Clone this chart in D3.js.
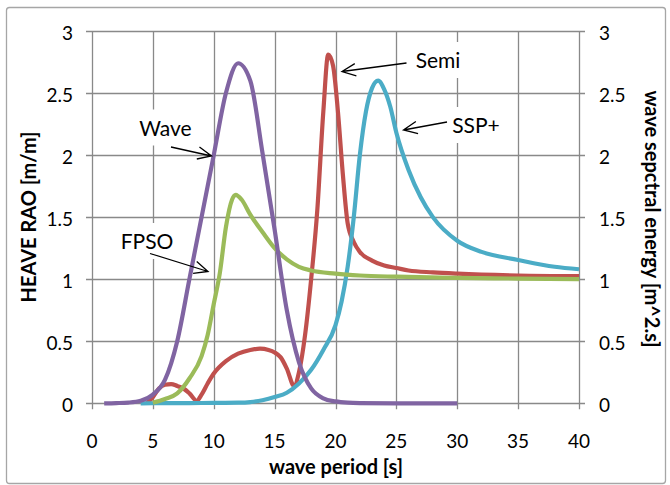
<!DOCTYPE html>
<html>
<head>
<meta charset="utf-8">
<script src="https://cdn.jsdelivr.net/npm/d3@7"></script>
<style>
  body { margin: 0; background: #fff; }
  text { font-family: Lato, "Open Sans", sans-serif; fill: #000; }
</style>
</head>
<body>
<div id="chart"></div>
<script>
// Data
const waveX = [1, 2, 3, 4, 5, 6, 7, 8, 9, 10, 11, 12, 13, 14, 15, 16, 17, 18, 19, 20, 21, 22, 25, 30]
const waveY = [0, 0.002, 0.006, 0.02, 0.07, 0.19, 0.5, 1.0, 1.5, 2.0, 2.5, 2.74, 2.6, 2.02, 1.4, 0.75, 0.33, 0.12, 0.04, 0.015, 0.005, 0.002, 0, 0]

const fpsoX = [5, 6, 7, 8, 9, 9.5, 10, 10.5, 11, 11.5, 11.8, 12.3, 13, 14, 15, 16, 17, 18, 20, 22, 25, 30, 35, 40]
const fpsoY = [0.005, 0.035, 0.08, 0.2, 0.38, 0.55, 0.8, 1.05, 1.42, 1.64, 1.68, 1.64, 1.52, 1.38, 1.25, 1.16, 1.1, 1.07, 1.045, 1.03, 1.02, 1.01, 1.005, 1.0]

const semiX = [4.5, 5, 5.5, 6, 6.5, 7, 7.5, 8, 8.6, 9, 9.5, 10, 11, 12, 13, 13.8, 14.5, 15, 15.5, 16, 16.6, 17, 17.5, 18, 18.5, 19, 19.4, 19.8, 20.2, 20.6, 21, 21.5, 22, 23, 24, 25, 26, 28, 30, 35, 40]
const semiY = [0, 0.05, 0.12, 0.15, 0.155, 0.14, 0.12, 0.08, 0.02, 0.07, 0.16, 0.24, 0.34, 0.4, 0.43, 0.44, 0.43, 0.41, 0.37, 0.28, 0.14, 0.25, 0.55, 1.0, 1.55, 2.35, 2.81, 2.72, 2.35, 1.85, 1.45, 1.3, 1.22, 1.15, 1.11, 1.09, 1.07, 1.055, 1.045, 1.03, 1.025]

const sspX = [4, 6, 8, 10, 12, 13, 14, 15, 16, 17, 18, 19, 20, 20.5, 21, 21.5, 22, 22.5, 23, 23.5, 24, 24.5, 25, 26, 27, 28, 30, 32, 35, 38, 40]
const sspY = [0, 0.001, 0.002, 0.003, 0.005, 0.01, 0.025, 0.05, 0.085, 0.16, 0.27, 0.43, 0.63, 0.82, 1.1, 1.5, 2.0, 2.35, 2.54, 2.6, 2.53, 2.39, 2.18, 1.88, 1.66, 1.5, 1.31, 1.22, 1.155, 1.1, 1.08]

const xTicks = [0, 5, 10, 15, 20, 25, 30, 35, 40]
const yTicks = [0, 0.5, 1, 1.5, 2, 2.5, 3]

const seriesNames = ["Wave", "FPSO", "Semi", "SSP+"]
const seriesColors = ["#8064a2", "#9bbb59", "#c0504d", "#4bacc6"]

// Size of the page
var width = 670
var height = 485

const svg = d3.select("#chart")
  .append("svg")
    .attr("width", width)
    .attr("height", height)

// outer frame
svg.append("rect")
  .attr("x", 6.5).attr("y", 7.5)
  .attr("width", 659).attr("height", 476)
  .attr("rx", 3)
  .attr("fill", "#fff")
  .attr("stroke", "#a6a6a6")
  .attr("stroke-width", 1.3)

const x = d3.scaleLinear().domain([0, 40]).range([92, 579])
const y = d3.scaleLinear().domain([0, 3]).range([403.3, 31])
const y2 = d3.scaleLinear().domain([0, 3]).range([403.3, 31])

const grid = "#898989"

// grid lines
svg.append("g")
  .selectAll("line")
  .data(xTicks)
  .join("line")
    .attr("x1", d => Math.round(x(d)) + 0.5)
    .attr("x2", d => Math.round(x(d)) + 0.5)
    .attr("y1", y(3))
    .attr("y2", y(0) + 6)
    .attr("stroke", grid)
    .attr("stroke-width", 1.3)

svg.append("g")
  .selectAll("line")
  .data(yTicks)
  .join("line")
    .attr("x1", x(0) - 6)
    .attr("x2", x(40) + 6)
    .attr("y1", d => Math.round(y(d)) + 0.5)
    .attr("y2", d => Math.round(y(d)) + 0.5)
    .attr("stroke", grid)
    .attr("stroke-width", 1.3)

// white boxes behind the labels (they hide the grid)
const labels = [
  {name: "Wave", tx: 165.5, ty: 135.5, ax1: 171, ay1: 147, ax2: 211.5, ay2: 156},
  {name: "FPSO", tx: 147, ty: 249, ax1: 150, ay1: 253.5, ax2: 208, ay2: 271.5},
  {name: "Semi", tx: 438, ty: 68, ax1: 406.5, ay1: 63, ax2: 342, ay2: 71.5},
  {name: "SSP+", tx: 476, ty: 133, ax1: 447, ay1: 122, ax2: 403.5, ay2: 130}
]

svg.append("g")
  .selectAll("rect")
  .data(labels)
  .join("rect")
    .attr("x", d => d.tx - 35)
    .attr("y", d => d.ty - 26)
    .attr("width", 70)
    .attr("height", 36)
    .attr("fill", "#fff")

// curves
const line = d3.line()
  .x(d => x(d[0]))
  .y(d => y(d[1]))
  .curve(d3.curveMonotoneX)

const series = [
  {name: "Semi", xs: semiX, ys: semiY, color: seriesColors[2]},
  {name: "SSP+", xs: sspX, ys: sspY, color: seriesColors[3]},
  {name: "FPSO", xs: fpsoX, ys: fpsoY, color: seriesColors[1]},
  {name: "Wave", xs: waveX, ys: waveY, color: seriesColors[0]}
]

svg.append("g")
  .selectAll("path")
  .data(series)
  .join("path")
    .attr("d", d => line(d.xs.map((v, i) => [v, d.ys[i]])))
    .attr("fill", "none")
    .attr("stroke", d => d.color)
    .attr("stroke-width", 4.2)
    .attr("stroke-linejoin", "round")
    .attr("stroke-linecap", "butt")

// tick labels
svg.append("g")
  .selectAll("text")
  .data(yTicks)
  .join("text")
    .attr("x", 73)
    .attr("y", d => y(d) + 9)
    .attr("text-anchor", "end")
    .style("font-size", "19px")
    .text(d => d)

svg.append("g")
  .selectAll("text")
  .data(yTicks)
  .join("text")
    .attr("x", 599)
    .attr("y", d => y2(d) + 9)
    .attr("text-anchor", "start")
    .style("font-size", "19px")
    .text(d => d)

svg.append("g")
  .selectAll("text")
  .data(xTicks)
  .join("text")
    .attr("x", d => x(d))
    .attr("y", 447.5)
    .attr("text-anchor", "middle")
    .style("font-size", "19px")
    .text(d => d)

// axis titles
svg.append("text")
  .attr("x", 336)
  .attr("y", 474)
  .attr("text-anchor", "middle")
  .style("font-size", "20px")
  .style("font-weight", "bold")
  .text("wave period [s]")

svg.append("text")
  .attr("transform", "translate(36,217) rotate(-90)")
  .attr("text-anchor", "middle")
  .style("font-size", "20px")
  .style("font-weight", "bold")
  .text("HEAVE RAO [m/m]")

svg.append("text")
  .attr("transform", "translate(645,219) rotate(90)")
  .attr("text-anchor", "middle")
  .style("font-size", "20px")
  .style("font-weight", "bold")
  .text("wave sepctral energy [m^2.s]")

// callout labels with arrows
const callouts = svg.append("g")

callouts.selectAll("text")
  .data(labels)
  .join("text")
    .attr("x", d => d.tx)
    .attr("y", d => d.ty)
    .attr("text-anchor", "middle")
    .style("font-size", "21px")
    .text(d => d.name)

callouts.selectAll("path")
  .data(labels)
  .join("path")
    .attr("d", function(d) {
      var a = Math.atan2(d.ay2 - d.ay1, d.ax2 - d.ax1)
      var L = 15, w = 0.42
      var p1 = [d.ax2 - L * Math.cos(a - w), d.ay2 - L * Math.sin(a - w)]
      var p2 = [d.ax2 - L * Math.cos(a + w), d.ay2 - L * Math.sin(a + w)]
      return "M" + d.ax1 + "," + d.ay1 + "L" + d.ax2 + "," + d.ay2 +
        "M" + p1 + "L" + d.ax2 + "," + d.ay2 + "L" + p2
    })
    .attr("fill", "none")
    .attr("stroke", "#000")
    .attr("stroke-width", 1.3)
</script>
</body>
</html>
